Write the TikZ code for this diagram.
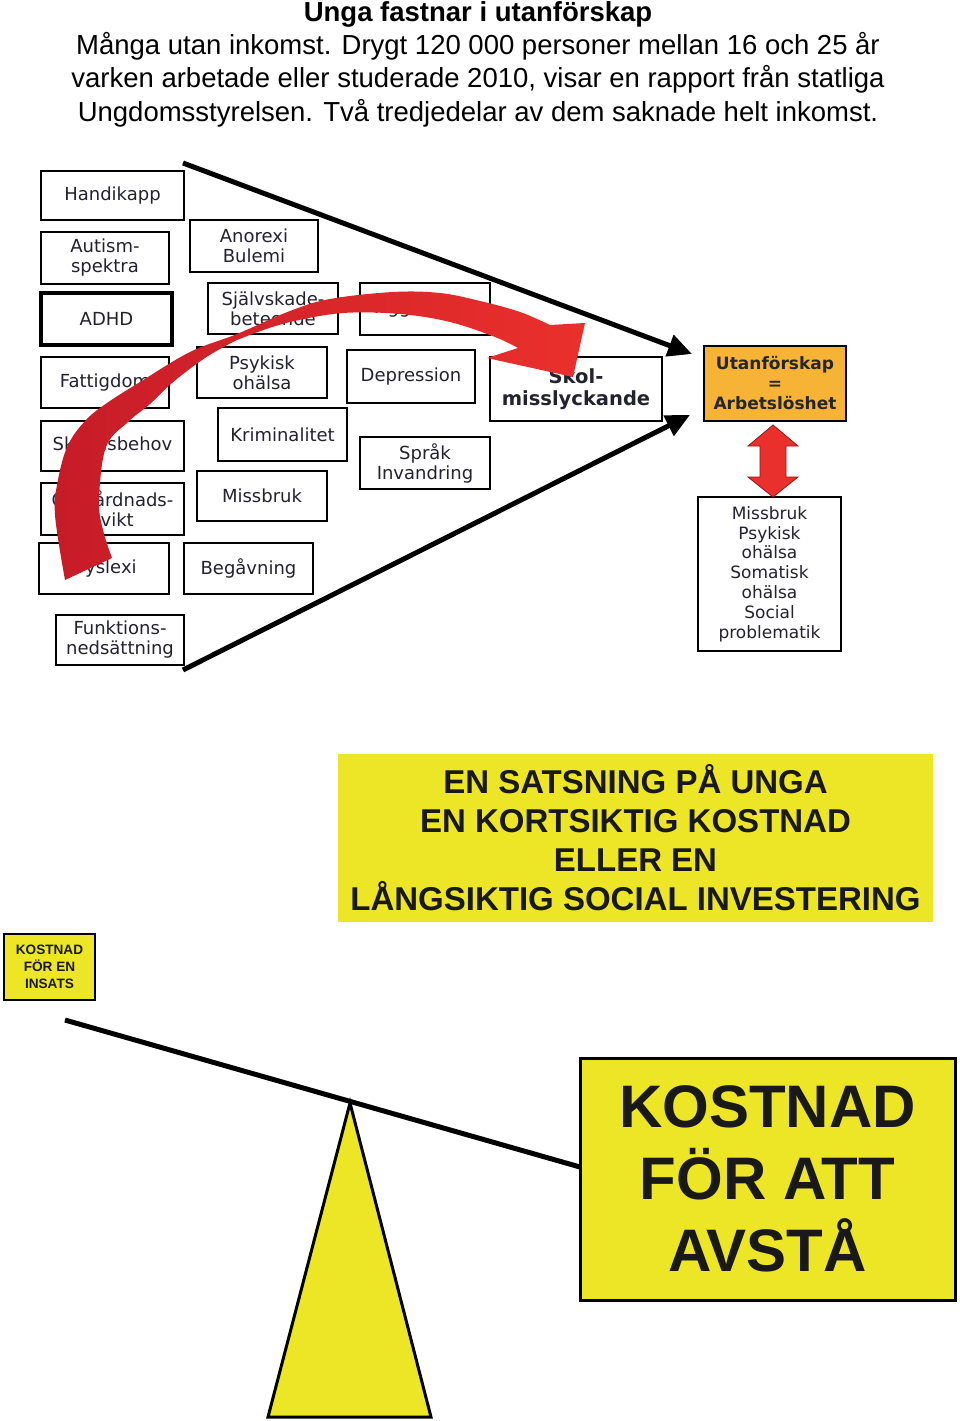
\documentclass[tikz,border=0pt]{standalone}
\usepackage{fontspec}
\setmainfont{Liberation Sans}
\newfontfamily\dv{DejaVu Sans}
\usetikzlibrary{arrows.meta}
\definecolor{ylw}{RGB}{237,230,38}
\definecolor{org}{RGB}{247,179,53}
\definecolor{rd}{RGB}{234,48,44}
\definecolor{rdd}{RGB}{198,28,40}
\definecolor{rdline}{RGB}{150,20,20}
\definecolor{txt}{RGB}{35,35,45}
\begin{document}
\begin{tikzpicture}[x=1pt,y=-1pt,
  lbl/.style={draw=black,line width=1.5pt,fill=white,inner sep=0pt,align=center,text=txt,font=\dv\fontsize{18}{20}\selectfont},
  lblb/.style={lbl,font=\dv\bfseries\fontsize{19.5}{22}\selectfont},
  bigarrow/.style={line width=5pt,-{Triangle[length=24pt,width=22pt]}},
  titletext/.style={anchor=base,font=\fontsize{27.5}{33}\selectfont},
  ybox/.style={fill=ylw,inner sep=0pt,align=center,text=black!90}
]
\useasboundingbox (0,0) rectangle (960,1421);

% title
\node[titletext,font=\bfseries\fontsize{27.5}{33}\selectfont] (title) at (478,22) {Unga fastnar i utanförskap};
\node[titletext] (line1) at (478,55) {Många utan inkomst. Drygt 120 000 personer mellan 16 och 25 år};
\node[titletext] (line2) at (478,88) {varken arbetade eller studerade 2010, visar en rapport från statliga};
\node[titletext] (line3) at (478,121) {Ungdomsstyrelsen. Två tredjedelar av dem saknade helt inkomst.};

% left column boxes
\node[lbl,minimum width=143pt,minimum height=49pt] (handikapp) at (112.5,195.5) {Handikapp};
\node[lbl,minimum width=128pt,minimum height=52pt] (autism) at (105,258) {Autism-\\spektra};
\node[lbl,line width=3.5pt,minimum width=131pt,minimum height=52pt] (adhd) at (106.5,319) {ADHD};
\node[lbl,minimum width=128pt,minimum height=51pt] (fattig) at (105,382.5) {Fattigdom};
\node[lbl,minimum width=143pt,minimum height=50pt] (skydd) at (112.5,446) {Skyddsbehov};
\node[lbl,minimum width=143pt,minimum height=52pt] (omv) at (112.5,509) {Omvårdnads-\\svikt};
\node[lbl,minimum width=130pt,minimum height=51pt] (dys) at (104,568.5) {Dyslexi};
\node[lbl,minimum width=128pt,minimum height=50pt] (funk) at (120,640) {Funktions-\\nedsättning};
% middle boxes
\node[lbl,minimum width=128pt,minimum height=52pt] (anorexi) at (254,246) {Anorexi\\Bulemi};
\node[lbl,minimum width=130pt,minimum height=51pt] (sjalv) at (273,308.5) {Självskade-\\beteende};
\node[lbl,minimum width=130pt,minimum height=52pt] (aggr) at (425,309) {Aggression};
\node[lbl,minimum width=130pt,minimum height=51pt] (psyk) at (262,372.5) {Psykisk\\ohälsa};
\node[lbl,minimum width=128pt,minimum height=53pt] (depr) at (411,376.5) {Depression};
\node[lbl,minimum width=129pt,minimum height=53pt] (krim) at (282.5,434.5) {Kriminalitet};
\node[lbl,minimum width=130pt,minimum height=50pt] (missb) at (262,496) {Missbruk};
\node[lbl,minimum width=130pt,minimum height=52pt] (sprak) at (425,463) {Språk\\Invandring};
\node[lbl,minimum width=129pt,minimum height=51pt] (begav) at (248.5,568.5) {Begåvning};
\node[lblb,minimum width=172pt,minimum height=64pt] (skol) at (576,389) {Skol-\\misslyckande};
% right boxes
\node[lbl,fill=org,text=black!85,font=\dv\bfseries\fontsize{17}{20}\selectfont,minimum width=142pt,minimum height=75pt] (utanf) at (775,383.5) {Utanförskap\\=\\Arbetslöshet};
\node[lbl,font=\dv\fontsize{17}{19.8}\selectfont,minimum width=143pt,minimum height=154pt] (probl) at (769.5,574) {Missbruk\\Psykisk\\ohälsa\\Somatisk\\ohälsa\\Social\\problematik};

% funnel arrows
\coordinate (ft1) at (183,163);
\coordinate (ft2) at (692,354);
\coordinate (fb1) at (183,670);
\coordinate (fb2) at (690,415);
\draw[bigarrow] (ft1) -- (ft2);
\draw[bigarrow] (fb1) -- (fb2);

% red double arrow between utanf and probl
\filldraw[fill=rd,draw=rdline,line width=0.8pt]
  (773,425) -- (798,446) -- (786,446) -- (786,477) -- (798,477) -- (773,497)
  -- (748,477) -- (760,477) -- (760,446) -- (748,446) -- cycle;

% red curved arrow
\shade[left color=rdd,right color=rd]
  plot[smooth,tension=0.6] coordinates {(65,580) (55,515) (58,480) (68,445) (86,420) (107,403) (140,382) (190,352) (237,334) (290,311) (330,299) (393,292) (440,293) (480,301) (520,312) (550,325)}
  -- (585,323) -- (573,377) -- (487,358)
  -- plot[smooth,tension=0.6] coordinates {(518,348) (495,337) (450,322) (400,314) (343,313) (290,322) (255,333) (237,340) (205,358) (172,383) (150,404) (128,422) (106,447) (99,500) (103,530) (112,558)}
  -- cycle;

% bottom text
\node[ybox,minimum width=595pt,minimum height=168pt,font=\bfseries\fontsize{33}{39}\selectfont] (satsning) at (635.5,838) {EN SATSNING PÅ UNGA\\EN KORTSIKTIG KOSTNAD\\ELLER EN\\LÅNGSIKTIG SOCIAL INVESTERING};
\node[ybox,draw=black,line width=2pt,minimum width=91pt,minimum height=66pt,font=\bfseries\fontsize{13.6}{17}\selectfont] (insats) at (49.5,967) {KOSTNAD\\FÖR EN\\INSATS};

% seesaw
\node[ybox,draw=black,line width=3pt,minimum width=375pt,minimum height=242pt,font=\bfseries\fontsize{60}{72}\selectfont] (avsta) at (767.5,1179) {KOSTNAD\\FÖR ATT\\AVSTÅ};
\filldraw[fill=ylw,draw=black,line width=3pt,line join=miter] (350,1103) -- (431,1417) -- (268,1417) -- cycle;
\coordinate (beamL) at (65,1020);
\coordinate (beamR) at (580,1167);
\draw[line width=5pt] (beamL) -- (beamR);
\end{tikzpicture}
\end{document}
